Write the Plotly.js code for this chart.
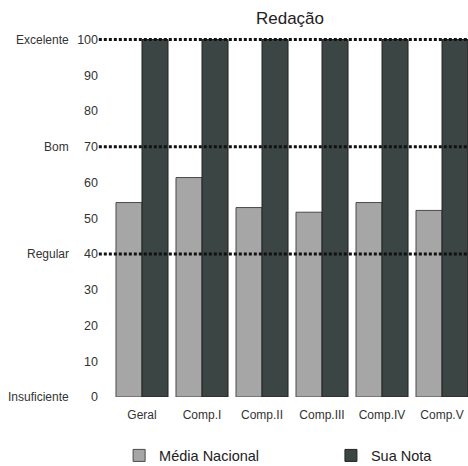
<!DOCTYPE html>
<html>
<head>
<meta charset="utf-8">
<script src="https://cdn.plot.ly/plotly-3.0.1.min.js"></script>
<style>html,body{margin:0;padding:0;background:#fff;}#chart{width:468px;height:466px;}</style>
</head>
<body>
<div id="chart"></div>
<script>
const categories = ["Geral", "Comp.I", "Comp.II", "Comp.III", "Comp.IV", "Comp.V"];
const mediaNacional = [54.4, 61.4, 53.0, 51.7, 54.4, 52.2];
const suaNota = [100, 100, 100, 100, 100, 100];
const levelValues = [100, 70, 40, 0];
const levelLabels = ["Excelente", "Bom", "Regular", "Insuficiente"];
const yTicks = [0, 10, 20, 30, 40, 50, 60, 70, 80, 90, 100];
const dottedLevels = [100, 70, 40];

const font = "Liberation Sans, Arial, sans-serif";

const traces = [
  {
    type: "bar", name: "Média Nacional", x: categories, y: mediaNacional, legend: "legend",
    marker: {color: "#a6a6a6", line: {color: "#4a4a4a", width: 1}}
  },
  {
    type: "bar", name: "Sua Nota", x: categories, y: suaNota, legend: "legend2",
    marker: {color: "#3b4543", line: {color: "#222222", width: 1}}
  }
];

const shapes = dottedLevels.map(v => ({
  type: "line", xref: "paper", yref: "y", x0: -0.037, x1: 1, y0: v, y1: v,
  line: {color: "#111111", width: 3, dash: "3px,2px"}, layer: "above"
}));

const annotations = levelValues.map((v, i) => ({
  xref: "paper", yref: "y", x: -0.115, y: v, text: levelLabels[i],
  showarrow: false, xanchor: "right", yanchor: "middle",
  font: {family: font, size: 12, color: "#333333"}
}));

const legendFont = {family: font, size: 14.5, color: "#222222"};

const layout = {
  width: 468, height: 466,
  margin: {l: 112, r: 0, t: 36, b: 69, autoexpand: false},
  paper_bgcolor: "#ffffff", plot_bgcolor: "#ffffff",
  font: {family: font, size: 12, color: "#333333"},
  title: {text: "Redação", font: {family: font, size: 17, color: "#222222"}, x: 0.5, xref: "paper", y: 0.962, yanchor: "middle"},
  barmode: "group", bargap: 0.133, bargroupgap: 0,
  xaxis: {
    type: "category", range: [-0.5, 5.433], showgrid: false, zeroline: false, showline: false,
    ticks: "", tickfont: {family: font, size: 12, color: "#333333"}, ticklabelstandoff: 9
  },
  yaxis: {
    range: [0, 101], tickvals: yTicks, showgrid: false, zeroline: false, showline: false,
    ticks: "", tickfont: {family: font, size: 12.5, color: "#333333"}, ticklabelstandoff: 13
  },
  showlegend: true,
  legend: {
    orientation: "h", x: 0.02, y: -0.162, xanchor: "left", yanchor: "middle",
    font: legendFont
  },
  legend2: {
    orientation: "h", x: 0.615, y: -0.162, xanchor: "left", yanchor: "middle",
    font: legendFont
  },
  shapes: shapes,
  annotations: annotations
};

Plotly.newPlot("chart", traces, layout, {displayModeBar: false, staticPlot: true});
</script>
</body>
</html>
